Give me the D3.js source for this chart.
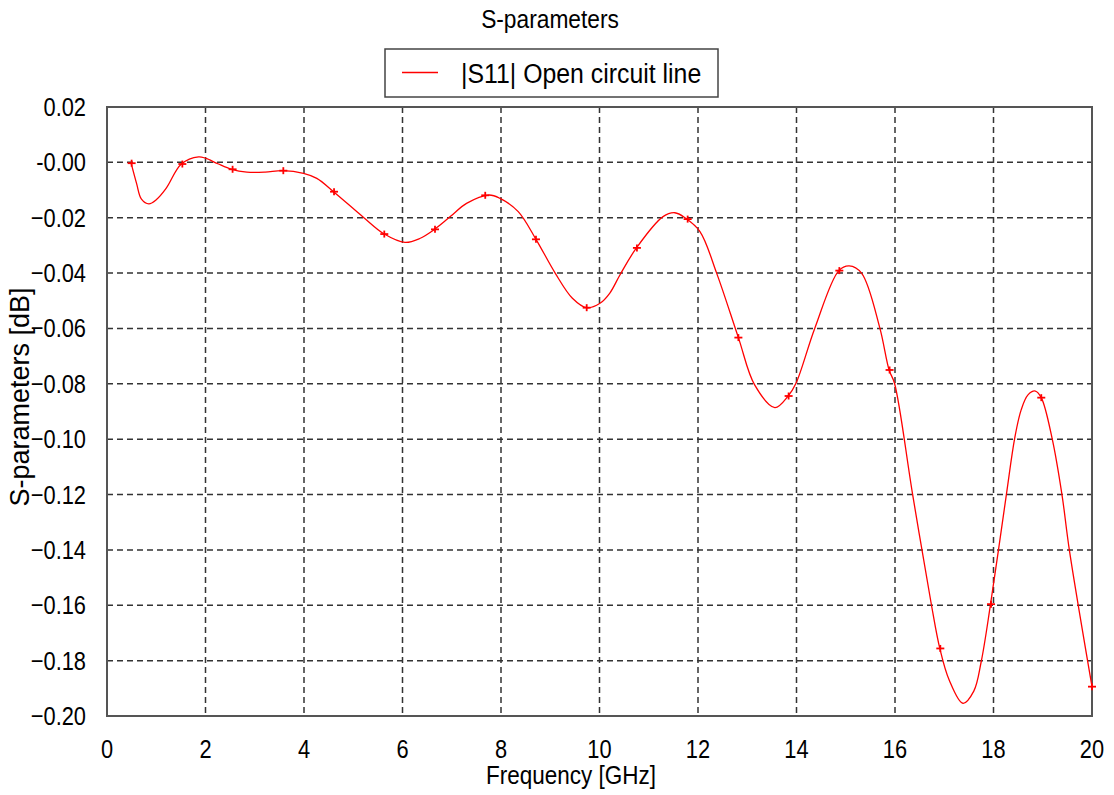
<!DOCTYPE html>
<html>
<head>
<meta charset="utf-8">
<script src="https://cdn.jsdelivr.net/npm/d3@7"></script>
<style>
  body { margin: 0; background: #fff; }
  svg { display: block; font-family: "Liberation Sans", Arial, sans-serif; }
  .grid line { stroke: #333; stroke-width: 1.5; stroke-dasharray: 6,4; }
  .tick-label { font-size: 26px; fill: #000; }
</style>
</head>
<body>
<svg width="1114" height="795"></svg>
<script>
const title = "S-parameters";
const seriesName = "|S11| Open circuit line";
const xLabel = "Frequency [GHz]";
const yLabel = "S-parameters [dB]";

const xTicks = [0, 2, 4, 6, 8, 10, 12, 14, 16, 18, 20];
const yTicks = [0.02, 0, -0.02, -0.04, -0.06, -0.08, -0.10, -0.12, -0.14, -0.16, -0.18, -0.20];

// traced curve (GHz, dB)
const curveFreq = [0.49, 0.6, 0.7, 0.85, 1.0, 1.2, 1.51, 1.86, 2.0, 2.25, 2.53, 2.84, 3.21, 3.57, 3.99, 4.26,
  4.6, 5.21, 5.63, 6.05, 6.35, 6.65, 6.97, 7.3, 7.75, 7.98, 8.35, 8.71, 9.1, 9.45, 9.74, 10.01, 10.21,
  10.42, 10.75, 11.29, 11.53, 11.75, 12.04, 12.38, 12.82, 13.15, 13.56, 13.83, 13.99, 14.37, 14.86,
  15.07, 15.32, 15.69, 15.88, 15.99, 16.36, 16.74, 16.91, 17.1, 17.38, 17.6, 17.75, 17.94, 18.26,
  18.43, 18.56, 18.7, 18.85, 18.97, 19.19, 19.39, 19.54, 20.0];
const curveVal = [-0.0003, -0.0076, -0.0133, -0.015, -0.0135, -0.0094, -0.0006, 0.002, 0.0015, -0.0005, -0.0025, -0.0035, -0.0035, -0.003, -0.004, -0.0058,
  -0.0106, -0.0199, -0.0259, -0.0289, -0.0275, -0.0242, -0.0196, -0.0148, -0.0118, -0.013, -0.0178, -0.0278, -0.040, -0.0491, -0.0525, -0.0509, -0.0472,
  -0.0405, -0.0309, -0.0196, -0.0182, -0.0202, -0.025, -0.0401, -0.0633, -0.0804, -0.0886, -0.0844, -0.0798, -0.060, -0.0391,
  -0.0374, -0.040, -0.0597, -0.075, -0.0798, -0.1202, -0.1599, -0.1756, -0.187, -0.1954, -0.191, -0.1804, -0.1596, -0.1202,
  -0.0997, -0.0895, -0.084, -0.0826, -0.085, -0.0997, -0.120, -0.140, -0.1894];

// marker samples
const markFreq = [0.5, 1.53, 2.55, 3.58, 4.61, 5.63, 6.66, 7.68, 8.71, 9.74, 10.76, 11.79, 12.82, 13.84, 14.87, 15.89, 16.92, 17.95, 18.97, 20.0];
const markVal = [-0.0003, -0.0006, -0.0025, -0.003, -0.0106, -0.0259, -0.0242, -0.0119, -0.0278, -0.0525, -0.0309, -0.0205, -0.0633, -0.0844, -0.0391, -0.075, -0.1756, -0.1596, -0.085, -0.1894];

const svg = d3.select("svg");
const margin = {top: 107, right: 22, bottom: 79, left: 107};
const width = 1114, height = 795;
const x = d3.scaleLinear().domain([0, 20]).range([margin.left, width - margin.right]);
const y = d3.scaleLinear().domain([0.02, -0.20]).range([margin.top, height - margin.bottom]);
const squish = 0.84; // tick font is a bit condensed

function label(g, tx, ty, txt, size, sx, anchor, rot) {
  return g.append("text")
    .attr("transform", `translate(${tx},${ty})` + (rot ? ` rotate(${rot})` : "") + ` scale(${sx},1)`)
    .attr("text-anchor", anchor || "start")
    .attr("font-size", size)
    .text(txt);
}

// grid
const grid = svg.append("g").attr("class", "grid");
grid.selectAll(".vx").data(xTicks.slice(1, -1)).enter().append("line")
  .attr("x1", d => x(d)).attr("x2", d => x(d))
  .attr("y1", y(0.02)).attr("y2", y(-0.20));
grid.selectAll(".hy").data(yTicks.slice(1, -1)).enter().append("line")
  .attr("x1", x(0)).attr("x2", x(20))
  .attr("y1", d => y(d)).attr("y2", d => y(d));

// frame
svg.append("rect")
  .attr("x", x(0)).attr("y", y(0.02))
  .attr("width", x(20) - x(0)).attr("height", y(-0.20) - y(0.02))
  .attr("fill", "none").attr("stroke", "#555").attr("stroke-width", 2);

// tick labels
svg.selectAll(".ylab").data(yTicks).enter().append("text")
  .attr("class", "tick-label")
  .attr("transform", d => `translate(86,${y(d) + 9}) scale(${squish},1)`)
  .attr("text-anchor", "end")
  .text(d => d === 0 ? "-0.00" : d3.format(".2f")(d));

svg.selectAll(".xlab").data(xTicks).enter().append("text")
  .attr("class", "tick-label")
  .attr("transform", d => `translate(${x(d)},758) scale(${squish},1)`)
  .attr("text-anchor", "middle")
  .text(d => d);

// series
const pts = curveFreq.map((f, i) => [f, curveVal[i]]);
const line = d3.line().x(d => x(d[0])).y(d => y(d[1])).curve(d3.curveCatmullRom.alpha(0.5));
svg.append("path").datum(pts)
  .attr("d", line).attr("fill", "none")
  .attr("stroke", "#ff0000").attr("stroke-width", 1.3);

const marks = markFreq.map((f, i) => [f, markVal[i]]);
const mk = svg.append("g").attr("stroke", "#ff0000").attr("stroke-width", 1.8);
mk.selectAll(".mh").data(marks).enter().append("line")
  .attr("x1", d => x(d[0]) - 4).attr("x2", d => x(d[0]) + 4)
  .attr("y1", d => y(d[1])).attr("y2", d => y(d[1]));
mk.selectAll(".mv").data(marks).enter().append("line")
  .attr("x1", d => x(d[0])).attr("x2", d => x(d[0]))
  .attr("y1", d => y(d[1]) - 3.5).attr("y2", d => y(d[1]) + 3.5);

// title
label(svg, 550, 28, title, 25, 0.91, "middle");

// legend
const lg = svg.append("g");
lg.append("rect").attr("x", 385).attr("y", 49).attr("width", 333).attr("height", 48)
  .attr("fill", "#fff").attr("stroke", "#444").attr("stroke-width", 1.5);
lg.append("line").attr("x1", 402).attr("x2", 438).attr("y1", 72.5).attr("y2", 72.5)
  .attr("stroke", "#ff0000").attr("stroke-width", 1.3);
label(lg, 461, 83, seriesName, 27, 0.92);

// axis titles
label(svg, 571, 784, xLabel, 25, 0.9, "middle");
label(svg, 29, 397, yLabel, 27, 1, "middle", -90);
</script>
</body>
</html>
